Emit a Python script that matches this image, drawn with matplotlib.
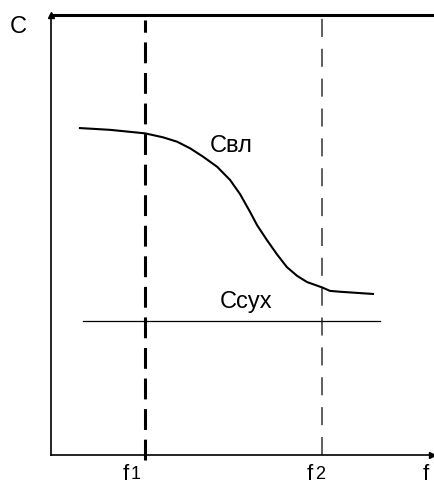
# Capacitance vs frequency sketch (C_вл and C_сух)

import numpy as np
import matplotlib.pyplot as plt

plt.rcParams['font.family'] = ['Liberation Sans', 'DejaVu Sans']
plt.rcParams['lines.scale_dashes'] = False

# curve of wet capacitance
f_wet = np.array([0.76, 1.55, 2.47, 2.94, 3.31, 3.65, 3.99, 4.36, 4.70, 4.96,
                  5.22, 5.41, 5.67, 5.93, 6.19, 6.46, 6.72, 7.11, 7.32, 7.59,
                  8.45])
c_wet = np.array([7.43, 7.39, 7.31, 7.22, 7.12, 6.97, 6.78, 6.55, 6.25, 5.93,
                  5.53, 5.22, 4.88, 4.56, 4.27, 4.07, 3.93, 3.81, 3.73, 3.71,
                  3.66])

# dry capacitance level and its span
c_dry = 3.05
f_dry = [0.84, 8.64]

# marked frequencies
f1 = 2.47
f2 = 7.11

fig = plt.figure(figsize=(4.34, 4.90), dpi=100)
ax = fig.add_axes([51/434, 35/490, 383/434, 440/490])
ax.set_xlim(0, 10.05)
ax.set_ylim(0, 10)
ax.set_xticks([])
ax.set_yticks([])
ax.spines['right'].set_visible(False)
ax.spines['left'].set_linewidth(1.2)
ax.spines['bottom'].set_linewidth(1.2)
ax.spines['top'].set_linewidth(2.2)

# arrow heads
ax.plot(0, 1, '^k', ms=5, transform=ax.transAxes, clip_on=False)
ax.plot(381/383, 0, '>k', ms=5, transform=ax.transAxes, clip_on=False)

# vertical dashed lines
ax.axvline(f1, ymin=-0.011, ymax=0.989, color='k', lw=2.2,
           dashes=(15, 7), clip_on=False)
ax.axvline(f2, ymin=0.0, ymax=0.993, color='#333333', lw=1.1,
           dashes=(13, 8.5), clip_on=False)

# curves
ax.plot(f_wet, c_wet, color='k', lw=1.5, solid_joinstyle='round')
ax.plot(f_dry, [c_dry, c_dry], color='k', lw=0.9)

# labels
ax.text(-0.87, 9.73, 'C', fontsize=17, ha='center', va='center', clip_on=False)
ax.text(4.17, 6.89, 'Свл', fontsize=17, ha='left', va='baseline')
ax.text(4.44, 3.34, 'Ссух', fontsize=17, ha='left', va='baseline')

for x, d in [(1.89, '1'), (6.72, '2')]:
    ax.text(x, -0.2, 'f', fontsize=16, ha='left', va='top', clip_on=False)
    ax.text(x + 0.21, -0.26, d, fontsize=13, ha='left', va='top', clip_on=False)
ax.text(9.76, -0.2, 'f', fontsize=16, ha='left', va='top', clip_on=False)

fig.savefig('out.png', dpi=100)
